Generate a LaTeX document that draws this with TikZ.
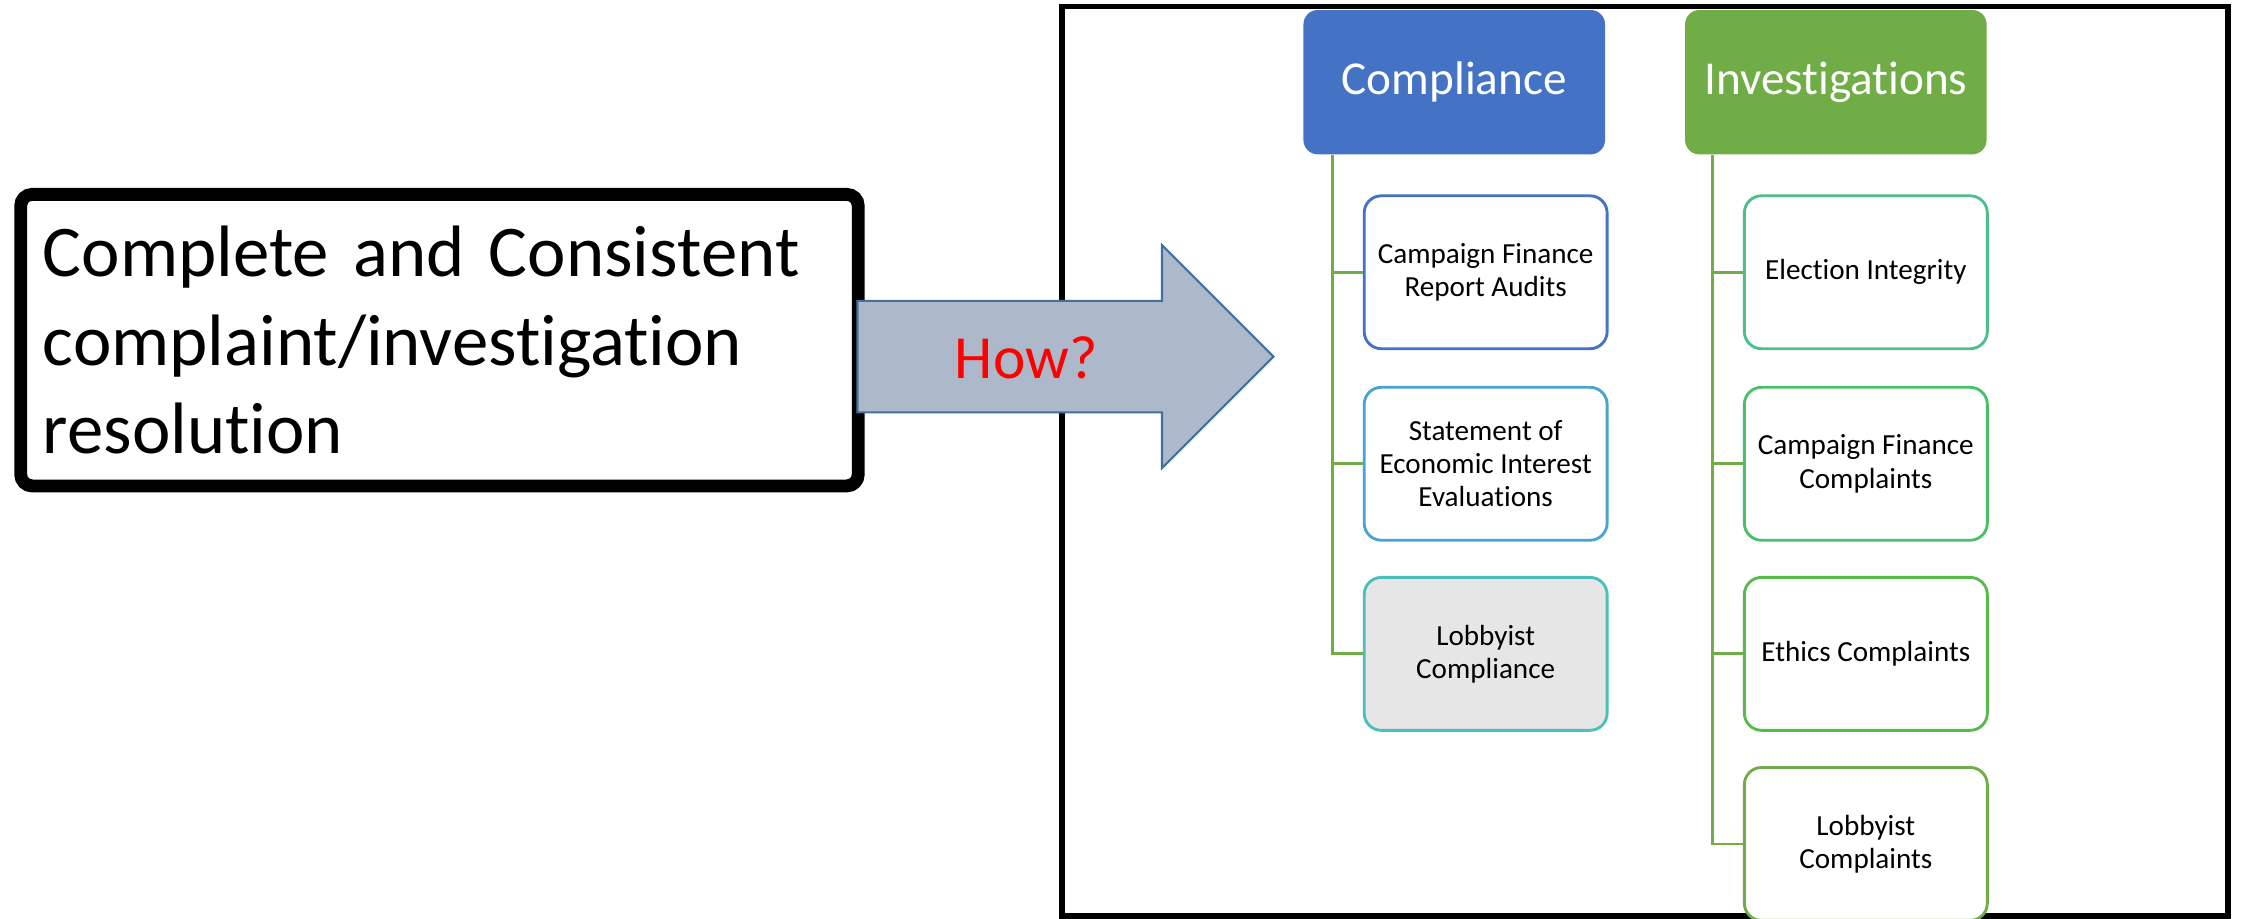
\documentclass[tikz,border=0pt]{standalone}
\usepackage{fontspec}
\setmainfont{Carlito}[Ligatures={NoCommon,NoContextual}]
\newcommand{\nolig}{\kern0pt}
\definecolor{compblue}{HTML}{4472C4}
\definecolor{invgreen}{HTML}{70AD47}
\definecolor{stmtblue}{HTML}{4BA3D0}
\definecolor{lobteal}{HTML}{4BBFB9}
\definecolor{elecgreen}{HTML}{4CBF8A}
\definecolor{cfcgreen}{HTML}{4CBF6A}
\definecolor{ethgreen}{HTML}{58BA4A}
\definecolor{lightgray}{HTML}{E7E6E6}
\definecolor{arrowfill}{HTML}{ADB9CA}
\definecolor{arrowdraw}{HTML}{41719C}
\begin{document}
\begin{tikzpicture}[x=0.1mm, y=-0.1mm]
\useasboundingbox (0,0) rectangle (1568,643);
\clip (0,0) rectangle (1568,643);
% frame round both columns
\draw[line width=0.4mm] (743,4.5) rectangle (1559,641);
\node[draw, line width=0.9mm, rounded corners=0.8mm, fill=white, minimum width=58.6mm, minimum height=20.4mm, text width=55.5mm, inner xsep=1.55mm, align=left, font=\fontsize{14.5}{17.6}\selectfont] (Goal) at (307.5,238) {Complete and Consist\nolig ent\\ complaint/invest\nolig igat\nolig ion\\ resolution};
% block arrow
\draw[fill=arrowfill, draw=arrowdraw, line width=0.15mm] (600,210.5) -- (813,210.5) -- (813,171.5) -- (891,249.5) -- (813,327.5) -- (813,288.5) -- (600,288.5) -- cycle;
\node[text=red, font=\fontsize{12.2}{14}\selectfont] (How) at (718,250) {How?};
\begin{scope}[every node/.style = {rounded corners=1mm, minimum width=21.1mm, minimum height=10.1mm, text=white, font=\fontsize{9.4}{11}\selectfont}]
\node[fill=compblue] (Comp) at (1017.5,57.5) {Compliance};
\node[fill=invgreen] (Inv) at (1284.5,57.5) {Invest\nolig igat\nolig ions};
\end{scope}
\begin{scope}[every node/.style = {draw, line width=0.2mm, rounded corners=1.2mm, fill=white, minimum width=17mm, minimum height=10.7mm, inner sep=0.5mm, align=center, font=\fontsize{5.8}{6.6}\selectfont}]
\node[draw=compblue] (CFRA) at (1039.5,190.5) {Campaign Finance\\ Report Audits};
\node[draw=stmtblue] (SEI) at (1039.5,324.5) {Statement of\\ Economic Interest\\ Evaluat\nolig ions};
\node[draw=lobteal, fill=lightgray] (LC) at (1039.5,457.5) {Lobbyist\\ Compliance};
\node[draw=elecgreen] (EI) at (1305.5,190.5) {Election Integrity};
\node[draw=cfcgreen] (CFC) at (1305.5,324.5) {Campaign Finance\\ Complaints};
\node[draw=ethgreen] (EC) at (1305.5,457.5) {Ethics Complaints};
\node[draw=invgreen] (LbC) at (1305.5,590.5) {Lobbyist\\ Complaints};
\end{scope}
\begin{scope}[every path/.style = {draw=invgreen, line width=0.2mm}]
\foreach \c in {CFRA, SEI, LC}
  \path ([xshift=2.1mm]Comp.south west) |- (\c.west);
\foreach \c in {EI, CFC, EC, LbC}
  \path ([xshift=2mm]Inv.south west) |- (\c.west);
\end{scope}
\end{tikzpicture}
\end{document}
